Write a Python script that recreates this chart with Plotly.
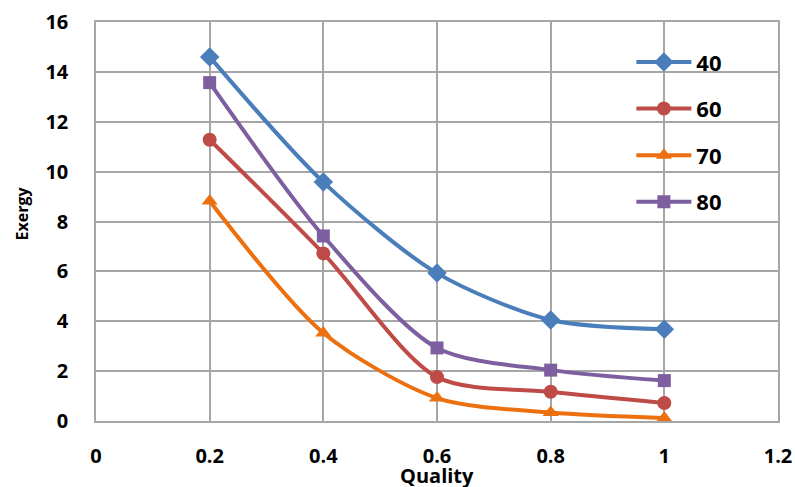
import plotly.graph_objects as go

quality = [0.2, 0.4, 0.6, 0.8, 1.0]
series_names = ["40", "60", "70", "80"]
exergy_40 = [14.6, 9.58, 5.93, 4.05, 3.68]
exergy_60 = [11.28, 6.72, 1.76, 1.17, 0.72]
exergy_70 = [8.82, 3.53, 0.92, 0.34, 0.12]
exergy_80 = [13.57, 7.42, 2.93, 2.04, 1.62]

colors = ["#4a7ebb", "#be4b48", "#ec7010", "#7d5fa0"]
symbols = ["diamond", "circle", "triangle-up", "square"]
sizes = [15, 14, 14, 13]
values = [exergy_40, exergy_60, exergy_70, exergy_80]

font_family = "'Open Sans', Lato, Arial, sans-serif"

fig = go.Figure()
for name, ys, c, s, sz in zip(series_names, values, colors, symbols, sizes):
    fig.add_trace(go.Scatter(
        x=quality, y=ys, name=name, mode="lines+markers",
        line=dict(color=c, width=4, shape="spline", smoothing=0.8),
        marker=dict(symbol=s, size=sz, color=c),
        legendgroup=name,
    ))

grid = "#a6a6a6"
fig.update_layout(
    width=795, height=487,
    margin=dict(l=96, r=17, t=22, b=66, autoexpand=False),
    paper_bgcolor="white", plot_bgcolor="white",
    font=dict(family=font_family, color="black", size=17),
    showlegend=True,
    legend=dict(
        x=0.785, y=0.952, xanchor="left", yanchor="top",
        bgcolor="rgba(0,0,0,0)", font=dict(size=22, family=font_family, color="black", weight="bold"),
        tracegroupgap=15, itemwidth=55, traceorder="grouped",
    ),
    xaxis=dict(
        range=[0, 1.2], tickvals=[0, 0.2, 0.4, 0.6, 0.8, 1, 1.2],
        ticktext=["0", "0.2", "0.4", "0.6", "0.8", "1", "1.2"],
        showgrid=True, gridcolor=grid, gridwidth=1.5,
        showline=True, linecolor=grid, linewidth=1.5, mirror=True,
        zeroline=False, ticks="", ticklabelstandoff=16, automargin=False,
        tickfont=dict(size=20, family=font_family, weight="bold"),
    ),
    yaxis=dict(
        range=[0, 16], tickvals=list(range(0, 17, 2)),
        showgrid=True, gridcolor=grid, gridwidth=1.5,
        showline=True, linecolor=grid, linewidth=1.5, mirror=True,
        zeroline=False, ticks="", ticklabelstandoff=22, automargin=False,
        tickfont=dict(size=20, family=font_family, weight="bold"),
    ),
    annotations=[
        dict(text="<b>Quality</b>", xref="paper", yref="paper", x=0.5, y=0,
             yshift=-54, xanchor="center", yanchor="middle", showarrow=False,
             font=dict(size=20, family=font_family, color="black")),
        dict(text="<b>Exergy</b>", xref="paper", yref="paper", x=0, y=0.5,
             xshift=-75, yshift=8, xanchor="center", yanchor="middle", showarrow=False,
             textangle=-90,
             font=dict(size=16, family=font_family, color="black")),
    ],
)

fig.write_html("out.html", config={"displayModeBar": False},
               post_script="document.body.style.margin='0';")
